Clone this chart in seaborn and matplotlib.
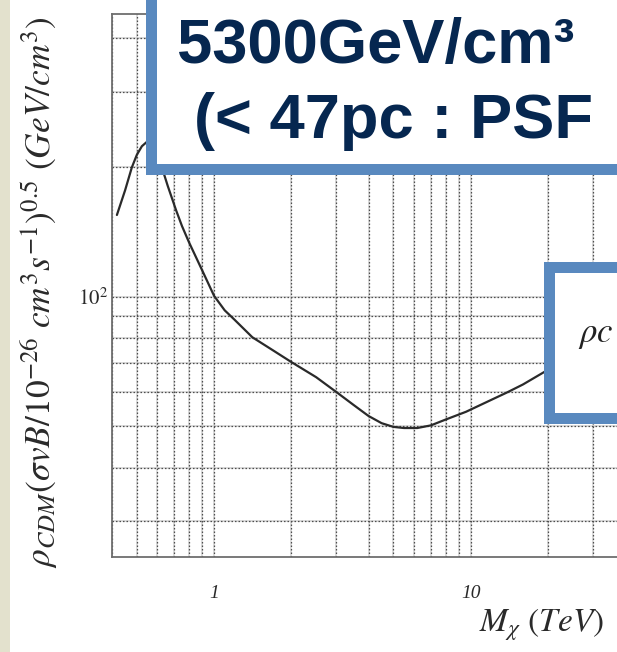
import numpy as np
import pandas as pd
import matplotlib
matplotlib.use("Agg")
import matplotlib.pyplot as plt
from matplotlib.patches import Rectangle
from matplotlib.ticker import LogLocator, NullFormatter
import seaborn as sns

# Sensitivity curve: required density vs. DM mass
mass_tev = [0.418, 0.45, 0.478, 0.5, 0.523, 0.55, 0.58, 0.621, 0.66, 0.711,
            0.75, 0.798, 0.9, 1.0, 1.1, 1.2, 1.41, 1.7, 2.0, 2.5,
            3.0, 3.5, 4.0, 4.5, 5.0, 5.5, 6.2, 7.0, 8.0, 9.6,
            12.0, 13.8, 16.0, 19.1, 25.0]
rho_cdm = [155, 177, 200, 214, 224, 230, 226, 203, 181, 159,
           146, 134, 115, 100.5, 93, 88.5, 80.5, 75, 70.5, 65,
           60, 56, 52.8, 50.8, 49.8, 49.5, 49.5, 50.2, 51.8, 54,
           57.5, 59.8, 62.5, 66.5, 73]

x_ticks = [1, 10]
x_tick_labels = ["1", "10"]
y_ticks = [100]
y_tick_labels = [r"$\mathit{10}^{\mathit{2}}$"]

x_label = r"$M_{\chi}\ (TeV)$"
y_label = r"$\rho_{CDM}(\sigma vB/10^{-26}\ cm^{3}s^{-1})^{0.5}\ (GeV/cm^{3})$"

box_line1 = "5300GeV/cm³"
box_line2 = "(< 47pc : PSF"
box2_text = r"$\rho c$"

sns.set_theme(style="white")
plt.rcParams["font.family"] = ["Liberation Serif", "DejaVu Serif"]
plt.rcParams["mathtext.fontset"] = "stix"

W, H = 617, 652
fig = plt.figure(figsize=(W / 100, H / 100), dpi=100)
fig.patch.set_facecolor("white")

# textured slide margin on the left
fig.add_artist(Rectangle((0, 0), 10 / W, 1, transform=fig.transFigure,
                         facecolor="#e3e1cd", edgecolor="none", zorder=0))

rect = [112 / W, 1 - 557 / H, 513 / W, 543 / H]
xlim = (0.4, 40)
ylim = (24.8, 455)


def log_axes(a):
    a.set_xscale("log")
    a.set_yscale("log")
    a.set_xlim(*xlim)
    a.set_ylim(*ylim)
    for axis in (a.xaxis, a.yaxis):
        axis.set_minor_locator(LogLocator(base=10, subs=np.arange(2, 10)))
        axis.set_minor_formatter(NullFormatter())


# underlay: soft solid grid beneath the dotted one
under = fig.add_axes(rect, zorder=0)
log_axes(under)
under.set_xticks(x_ticks)
under.set_yticks(y_ticks)
under.grid(which="both", color="#d4d4d4", linestyle="-", linewidth=1.2)
under.tick_params(which="both", length=0, labelleft=False, labelbottom=False)
for s in under.spines.values():
    s.set_visible(False)

ax = fig.add_axes(rect, zorder=1)
ax.patch.set_alpha(0)
df = pd.DataFrame({"mass": mass_tev, "rho": rho_cdm})
sns.lineplot(data=df, x="mass", y="rho", ax=ax, color="#2a2a2a", linewidth=1.6)
log_axes(ax)

ax.set_xticks(x_ticks)
ax.set_xticklabels(x_tick_labels, fontstyle="italic", fontsize=14, color="#2a2a2a")
ax.set_yticks(y_ticks)
ax.set_yticklabels(y_tick_labels, fontsize=15, color="#2a2a2a")

ax.tick_params(axis="both", which="major", direction="in", length=8, width=1.0,
               color="#555555")
ax.tick_params(axis="both", which="minor", direction="in", length=4, width=0.9,
               color="#555555")
ax.tick_params(axis="x", which="major", pad=20)
ax.tick_params(axis="y", which="major", pad=3)

ax.grid(which="both", color="#4e4e4e", linestyle=(0, (1.2, 1.6)), linewidth=0.9)
for side in ("left", "bottom", "top", "right"):
    ax.spines[side].set_color("#6e6e6e")
    ax.spines[side].set_linewidth(1.3)

ax.set_xlabel(x_label, fontsize=24, color="#2a2a2a", ha="left", va="baseline")
ax.xaxis.set_label_coords(0.715, -0.138)
ax.set_ylabel(y_label, fontsize=25.5, color="#2a2a2a")
ax.yaxis.set_label_coords(-0.099, 0.488)

# callout boxes
blue = "#5989bf"
navy = "#062750"
lw_pt = 11 * 72 / 100
fig.add_artist(Rectangle((151 / W, 1 - 169 / H), 1.0, 0.5, transform=fig.transFigure,
                         facecolor="white", edgecolor=blue, linewidth=lw_pt, zorder=5))
fig.text(177 / W, 1 - 63 / H, box_line1, fontsize=45.5, fontweight="bold",
         family="Liberation Sans", color=navy, ha="left", va="baseline", zorder=6)
fig.text(194 / W, 1 - 138 / H, box_line2, fontsize=45.5, fontweight="bold",
         family="Liberation Sans", color=navy, ha="left", va="baseline", zorder=6)

fig.add_artist(Rectangle((548.5 / W, 1 - 417.5 / H), 0.5, 150.5 / H,
                         transform=fig.transFigure, facecolor="white",
                         edgecolor=blue, linewidth=lw_pt, zorder=5))
fig.text(578 / W, 1 - 342 / H, box2_text, fontsize=25, color="#222222",
         ha="left", va="baseline", zorder=6)

fig.savefig("out.png", dpi=100, facecolor="white")
